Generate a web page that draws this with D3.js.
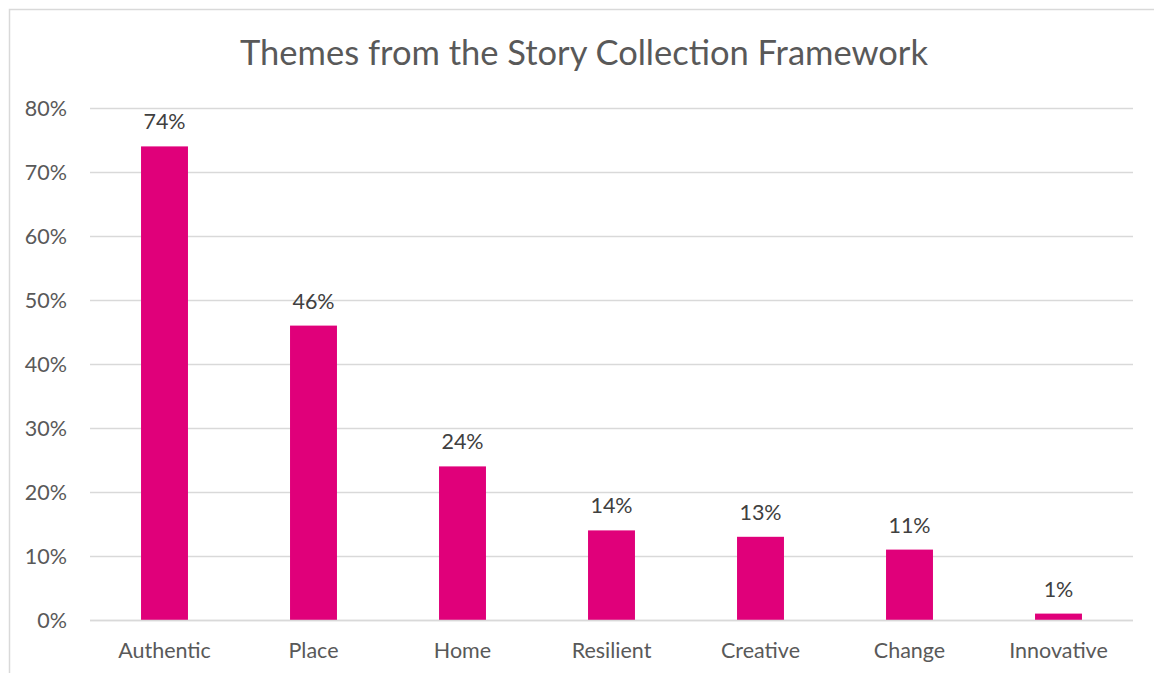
<!DOCTYPE html>
<html>
<head>
<meta charset="utf-8">
<script src="https://cdn.jsdelivr.net/npm/d3@7"></script>
<style>
  html, body { margin: 0; padding: 0; background: #fff; }
  svg { display: block; font-family: Lato, "Open Sans", sans-serif; }
</style>
</head>
<body>
<svg id="chart" width="1154" height="673"></svg>
<script>
// Share of stories touching each theme
const themes = ["Authentic", "Place", "Home", "Resilient", "Creative", "Change", "Innovative"];
const shares = [0.74, 0.46, 0.24, 0.14, 0.13, 0.11, 0.01];
const yTicks = [0, 0.1, 0.2, 0.3, 0.4, 0.5, 0.6, 0.7, 0.8];
const chartTitle = "Themes from the Story Collection Framework";

const svg = d3.select("#chart");
const W = 1154, H = 673;
const plot = { left: 90, right: 1133, top: 108, bottom: 620 };
const labelSize = 21.5;

// Outer chart frame
svg.append("rect")
  .attr("x", 9.5).attr("y", 9.5)
  .attr("width", W + 20).attr("height", H + 20)
  .attr("fill", "#fff").attr("stroke", "#d9d9d9").attr("stroke-width", 1.5);

svg.append("text")
  .attr("x", 584).attr("y", 65)
  .attr("text-anchor", "middle")
  .attr("font-size", 34.5)
  .attr("fill", "#595959")
  .text(chartTitle);

const x = d3.scaleBand().domain(themes).range([plot.left, plot.right]).paddingInner(0.685).paddingOuter(0.3425);
const y = d3.scaleLinear().domain([0, 0.8]).range([plot.bottom, plot.top]);

// Horizontal gridlines
svg.append("g")
  .selectAll("line").data(yTicks).join("line")
  .attr("x1", plot.left).attr("x2", plot.right)
  .attr("y1", d => Math.round(y(d)) + 0.5).attr("y2", d => Math.round(y(d)) + 0.5)
  .attr("stroke", "#d9d9d9").attr("stroke-width", 1.5);

// Y axis labels
const yAxis = d3.axisLeft(y).tickValues(yTicks).tickFormat(d3.format(".0%")).tickSize(0).tickPadding(0);
svg.append("g")
  .attr("transform", `translate(${67},0)`)
  .call(yAxis)
  .call(g => g.select(".domain").remove())
  .selectAll("text")
  .attr("font-size", labelSize).attr("fill", "#595959").attr("font-family", "Lato, 'Open Sans', sans-serif")
  .attr("dy", "0.35em");

// Bars
svg.append("g")
  .selectAll("rect").data(themes).join("rect")
  .attr("x", d => x(d))
  .attr("width", x.bandwidth())
  .attr("y", (d, i) => y(shares[i]))
  .attr("height", (d, i) => y(0) - y(shares[i]))
  .attr("fill", "#e0007a");

// Value labels
svg.append("g")
  .selectAll("text").data(themes).join("text")
  .attr("x", d => x(d) + x.bandwidth() / 2)
  .attr("y", (d, i) => y(shares[i]) - 17)
  .attr("text-anchor", "middle")
  .attr("font-size", labelSize)
  .attr("fill", "#404040")
  .text((d, i) => d3.format(".0%")(shares[i]));

// Baseline
svg.append("line")
  .attr("x1", plot.left).attr("x2", plot.right)
  .attr("y1", plot.bottom + 0.5).attr("y2", plot.bottom + 0.5)
  .attr("stroke", "#d9d9d9").attr("stroke-width", 1.5);

// Category axis labels
const xAxis = d3.axisBottom(x).tickSize(0).tickPadding(0);
svg.append("g")
  .attr("transform", `translate(0,${plot.bottom})`)
  .call(xAxis)
  .call(g => g.select(".domain").remove())
  .selectAll("text")
  .attr("font-size", labelSize).attr("fill", "#595959").attr("font-family", "Lato, 'Open Sans', sans-serif")
  .attr("dy", 0).attr("y", 38);
</script>
</body>
</html>
